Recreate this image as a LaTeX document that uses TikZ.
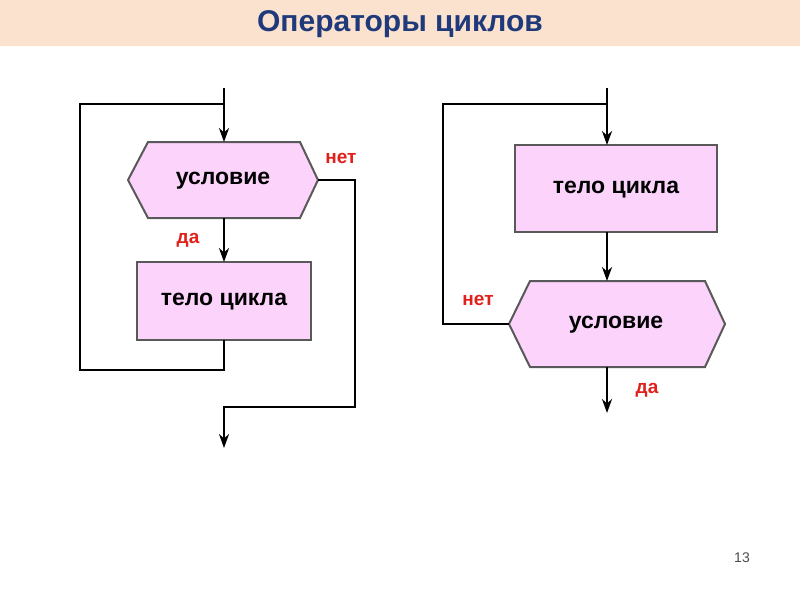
\documentclass[tikz,border=0pt]{standalone}
\usepackage{fontspec}
\setmainfont{Liberation Sans}
\usetikzlibrary{arrows.meta}
\definecolor{band}{HTML}{FBE2CF}
\definecolor{ttl}{HTML}{1F3A7A}
\definecolor{boxfill}{HTML}{FBD3FB}
\definecolor{lbl}{HTML}{E0201B}
\tikzset{
  blk/.style={draw=gray!70!black, line width=2pt, fill=boxfill},
  flow/.style={line width=2.4pt, -{Stealth[length=14pt,width=10pt]}},
  ln/.style={line width=2.4pt},
  txt/.style={font=\fontsize{23}{26}\selectfont\bfseries},
  red/.style={text=lbl, font=\fontsize{19}{22}\selectfont\bfseries}
}
\begin{document}
\begin{tikzpicture}[x=1pt,y=-1pt]
\useasboundingbox (0,0) rectangle (800,600);
\fill[white] (0,0) rectangle (800,600);
\fill[band] (0,0) rectangle (800,46);
\node[text=ttl, font=\fontsize{30}{34}\selectfont\bfseries] (title) at (400,24) {Операторы циклов};
% left
\draw[blk] (128,180) -- (148,142) -- (300,142) -- (318,180) -- (300,218) -- (148,218) -- cycle;
\node[txt] (c1) at (223,181) {условие};
\draw[blk] (137,262) rectangle (311,340);
\node[txt] (b1) at (224,302) {тело цикла};
\coordinate (c1t) at (224,142); \coordinate (c1b) at (224,218); \coordinate (c1r) at (318,180);
\coordinate (b1t) at (224,262); \coordinate (b1b) at (224,340);
\coordinate (s1) at (224,88); \coordinate (e1) at (224,448);
\draw[flow] (s1) -- (c1t);
\draw[flow] (c1b) -- (b1t);
\draw[ln] (b1b) -- (224,370) -- (80,370) -- (80,104) -- (224,104);
\draw[flow] (c1r) -- (355,180) -- (355,407) -- (224,407) -- (e1);
\node[red] (da1) at (188,240) {да};
\node[red] (net1) at (341,158) {нет};
% right
\draw[blk] (515,145) rectangle (717,232);
\node[txt] (b2) at (616,190) {тело цикла};
\draw[blk] (509,324) -- (530,281) -- (705,281) -- (725,324) -- (705,367) -- (530,367) -- cycle;
\node[txt] (c2) at (616,325) {условие};
\coordinate (s2) at (607,88); \coordinate (b2t) at (607,145); \coordinate (b2b) at (607,232);
\coordinate (c2t) at (607,281); \coordinate (c2b) at (607,367); \coordinate (c2l) at (509,324);
\coordinate (e2) at (607,413);
\draw[flow] (s2) -- (b2t);
\draw[flow] (b2b) -- (c2t);
\draw[ln] (c2l) -- (443,324) -- (443,104) -- (607,104);
\draw[flow] (c2b) -- (e2);
\node[red] (net2) at (478,300) {нет};
\node[red] (da2) at (647,390) {да};
\node[font=\fontsize{14}{16}\selectfont, text=black!70] (pg) at (742,558) {13};
\end{tikzpicture}
\end{document}
